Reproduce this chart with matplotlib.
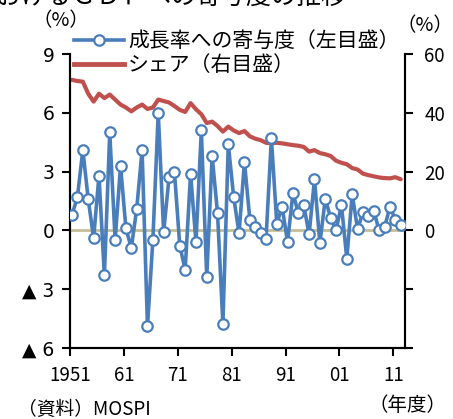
import matplotlib.pyplot as plt
from matplotlib.lines import Line2D

plt.rcParams['font.family'] = ['Noto Sans CJK JP', 'DejaVu Sans']

years = list(range(1951, 2013))
# 成長率への寄与度（%、左目盛）
contrib = [0.8, 1.7, 4.1, 1.6, -0.4, 2.8, -2.3, 5.0, -0.5, 3.3,
           0.1, -0.9, 1.1, 4.1, -4.9, -0.5, 6.0, -0.1, 2.7, 3.0,
           -0.8, -2.0, 2.9, -0.6, 5.1, -2.4, 3.8, 0.9, -4.8, 4.4,
           1.7, -0.15, 3.5, 0.55, 0.15, -0.15, -0.45, 4.7, 0.35, 1.2,
           -0.6, 1.9, 0.9, 1.3, -0.2, 2.6, -0.65, 1.6, 0.65, 0.0,
           1.3, -1.45, 1.85, 0.05, 0.95, 0.75, 1.0, 0.0, 0.15, 1.2,
           0.55, 0.3]
# シェア（%、右目盛）
share = [51.2, 50.8, 50.6, 46.5, 43.8, 46.5, 45.0, 46.2, 44.5, 42.8,
         41.8, 40.5, 41.8, 42.8, 41.3, 41.8, 44.5, 44.0, 43.5, 42.3,
         41.0, 40.3, 43.3, 41.2, 39.5, 36.5, 37.0, 35.5, 33.6, 35.3,
         34.0, 33.1, 33.8, 32.0, 31.2, 30.7, 29.8, 29.7, 29.8, 29.6,
         29.3, 29.0, 28.8, 28.4, 26.8, 27.3, 26.3, 25.9, 25.3, 23.7,
         23.0, 22.5, 21.2, 20.7, 19.3, 18.8, 18.4, 18.0, 17.8, 17.7,
         18.1, 17.4]

xtick_years = [1951, 1961, 1971, 1981, 1991, 2001, 2011]
xtick_labels = ['1951', '61', '71', '81', '91', '01', '11']
left_ticks = [9, 6, 3, 0, -3, -6]
left_labels = ['9', '6', '3', '0', '▲ 3', '▲ 6']
right_ticks = [60, 40, 20, 0, -20, -40]
right_labels = ['60', '40', '20', '0', '', '']

blue = '#4a7ebb'
red = '#c0504d'

fig = plt.figure(figsize=(4.53, 4.19), dpi=100)
ax = fig.add_axes([70 / 453, 1 - 348 / 419, 335 / 453, 294 / 419])
ax2 = ax.twinx()

ax.plot(years, contrib, color=blue, lw=2.6, marker='o', ms=7.5,
        mfc='white', mec=blue, mew=1.6, zorder=3)
ax.axhline(0, color='#c4bd97', lw=2, zorder=2)
ax2.plot(years, share, color=red, lw=3, solid_capstyle='round')

ax.set_zorder(ax2.get_zorder() + 1)
ax.patch.set_visible(False)

x0, x1 = 1950.62, 2012.8
ax.set_xlim(x0, x1)
ax.set_ylim(-6, 9)
ax2.set_ylim(-40, 60)

# 目盛はカテゴリ境界に置く
ax.set_xticks([y - 0.38 for y in xtick_years])
ax.set_xticklabels(xtick_labels)
ax.set_yticks(left_ticks)
ax.set_yticklabels(left_labels, family=['DejaVu Sans'])
ax2.set_yticks(right_ticks)
ax2.set_yticklabels(right_labels)

for a in (ax, ax2):
    a.spines['top'].set_visible(False)
    for s in a.spines.values():
        s.set_linewidth(1.5)
    a.tick_params(direction='out', length=6, width=1.5, labelsize=13.5)
ax.tick_params(axis='x', pad=6)
ax.tick_params(axis='y', pad=5)
ax2.tick_params(axis='y', pad=8)

handles = [
    Line2D([], [], color=blue, lw=2.6, marker='o', ms=7.5, mfc='white',
           mec=blue, mew=1.6),
    Line2D([], [], color=red, lw=3.5),
]
fig.legend(handles, ['成長率への寄与度（左目盛）', 'シェア（右目盛）'],
           loc='upper left', bbox_to_anchor=(74 / 453, 1 - 30 / 419),
           frameon=False, fontsize=15, handlelength=2.4,
           handletextpad=0.2, labelspacing=0.1, borderaxespad=0,
           borderpad=0, markerfirst=True)

fig.text(32 / 453, 1 - 21 / 419, '（%）', fontsize=14, ha='left', va='center')
fig.text(396 / 453, 1 - 26 / 419, '（%）', fontsize=14, ha='left', va='center')
fig.text(347 / 453, 1 - 4 / 419, 'におけるＧＤＰへの寄与度の推移', fontsize=18,
         ha='right', va='baseline')
fig.text(18 / 453, 1 - 409 / 419, '（資料）MOSPI', fontsize=13.5, ha='left', va='center')
fig.text(447 / 453, 1 - 405 / 419, '（年度）', fontsize=14, ha='right', va='center')

fig.savefig('out.png', dpi=100)
